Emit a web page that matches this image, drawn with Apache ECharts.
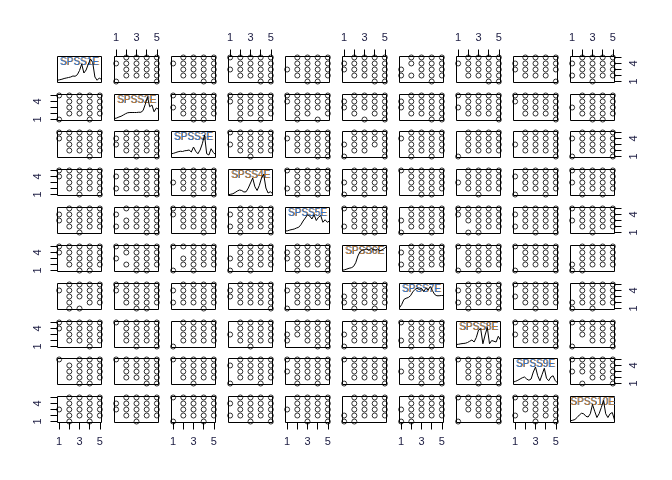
<!DOCTYPE html>
<html><head><meta charset="utf-8">
<script src="https://cdn.jsdelivr.net/npm/echarts@6/dist/echarts.min.js"></script>
<style>html,body{margin:0;padding:0;background:#fff}#c{width:672px;height:480px}</style>
</head><body><div id="c"></div>
<script>
// variable names (diagonal labels)
const varNames = ['SPSS1E','SPSS2E','SPSS3E','SPSS4E','SPSS5E','SPSS6E','SPSS7E','SPSS8E','SPSS9E','SPSS10E'];
// item responses (1-5 Likert) per variable
const SPSS1E  = ("3454524354342534451453243535425344354215" + "4352435342543253435245342354335243542534").split('').map(Number);
const SPSS2E  = ("4525343452453354241534524353425435241354" + "3425334524352435342534254345243524354425").split('').map(Number);
const SPSS3E  = ("2534453425314543524354325445235413543254" + "5243435325435244534253324354235342534352").split('').map(Number);
const SPSS4E  = ("5342543524135425434253452354241534352453" + "2435334524352345342534452435423534253342").split('').map(Number);
const SPSS5E  = ("4353425345243514534253423545324154352435" + "5234354235343524453425354524354233452534").split('').map(Number);
const SPSS6E  = ("3545234354152435425345324354253415423545" + "4243543524325243542353425324523543352452").split('').map(Number);
const SPSS7E  = ("4235453425341543524534253452354125435342" + "3534253425334524354423545352453234352454").split('').map(Number);
const SPSS8E  = ("5423534254315435245342543524543215345243" + "2354343524253245234534352453324354235443").split('').map(Number);
const SPSS9E  = ("3452543524153452435425345243524351435254" + "4523354324352435425334523545354325343254").split('').map(Number);
const SPSS10E = ("2545342534251435423545342534254315324534" + "3452435342354425435243534253245243524335").split('').map(Number);
const responses = [SPSS1E,SPSS2E,SPSS3E,SPSS4E,SPSS5E,SPSS6E,SPSS7E,SPSS8E,SPSS9E,SPSS10E];

// tick values and labels
const xTicks = [1,2,3,4,5];
const xTickLabels = [1,3,5];
const yTicks = [1,2,3,4,5];
const yTickLabels = [1,4];

// density curves on the diagonal (relative heights)
const densityX = [0,0.05,0.1,0.15,0.2,0.25,0.3,0.35,0.4,0.45,0.5,0.55,0.6,0.65,0.7,0.75,0.8,0.85,0.9,0.95,1];
const dens1  = [0.09,0.11,0.13,0.16,0.18,0.2,0.22,0.26,0.25,0.31,0.48,0.74,0.38,0.5,0.74,0.94,0.8,0.22,0.09,0.18,0.12];
const dens2  = [0.08,0.1,0.14,0.17,0.22,0.27,0.31,0.32,0.32,0.32,0.32,0.33,0.33,0.4,0.65,0.95,0.55,0.62,0.35,0.5,0.45];
const dens3  = [0.15,0.17,0.2,0.23,0.25,0.24,0.27,0.28,0.3,0.22,0.42,0.25,0.15,0.3,0.55,0.9,0.15,0.1,0.35,0.2,0.12];
const dens4  = [0.03,0.05,0.07,0.12,0.18,0.22,0.2,0.14,0.15,0.3,0.5,0.7,0.35,0.2,0.4,0.7,0.85,0.3,0.1,0.15,0.08];
const dens5  = [0.1,0.11,0.14,0.16,0.18,0.22,0.25,0.35,0.5,0.62,0.75,0.7,0.58,0.75,0.52,0.65,0.72,0.45,0.55,0.45,0.5];
const dens6  = [0.05,0.07,0.1,0.13,0.15,0.2,0.35,0.62,0.8,0.85,0.88,0.9,0.85,0.92,0.88,0.85,0.9,0.82,0.87,0.92,1.0];
const dens7  = [0.07,0.2,0.4,0.45,0.48,0.55,0.7,0.8,0.85,0.8,0.85,0.72,0.85,0.78,0.92,0.75,0.6,0.55,0.55,0.56,0.56];
const dens8  = [0.12,0.13,0.15,0.16,0.17,0.2,0.25,0.3,0.22,0.4,0.7,0.75,0.15,0.5,0.8,0.15,0.28,0.25,0.22,0.45,0.3];
const dens9  = [0.1,0.13,0.17,0.22,0.27,0.3,0.22,0.17,0.22,0.5,0.7,0.35,0.15,0.4,0.65,0.25,0.15,0.3,0.35,0.15,0.07];
const dens10 = [0.07,0.09,0.12,0.2,0.3,0.37,0.35,0.25,0.22,0.35,0.72,0.45,0.2,0.35,0.6,0.88,0.35,0.2,0.35,0.4,0.1];
const densities = [dens1,dens2,dens3,dens4,dens5,dens6,dens7,dens8,dens9,dens10];

// ---- layout ----
const N = 10;
const colLeft0 = 57.5, colStep = 57, panelW = 44;
const rowTop0 = 56.7, rowStep = 37.84, panelH = 26;
const FONT = "'Liberation Sans', Arial, sans-serif";
const labelColor = '#1a1a40';

const grids = [], xAxes = [], yAxes = [], series = [], graphics = [];
for (let i = 0; i < N; i++) {
  for (let j = 0; j < N; j++) {
    const k = i * N + j;
    const left = colLeft0 + colStep * j;
    const top = Math.round(rowTop0 + rowStep * i) - 0.5;
    grids.push({left: left, top: top, width: panelW, height: panelH, show: true,
      borderColor: '#000', borderWidth: 1, backgroundColor: 'transparent',
      containLabel: false, outerBoundsMode: 'none'});
    if (i === j) {
      xAxes.push({gridIndex: k, type: 'value', min: 0, max: 1, show: false});
      yAxes.push({gridIndex: k, type: 'value', min: 0, max: 1.04, show: false});
      series.push({type: 'line', xAxisIndex: k, yAxisIndex: k, symbol: 'none', z: 3,
        lineStyle: {color: '#000', width: 1}, silent: true, animation: false,
        data: densityX.map((x, n) => [x, densities[i][n]])});
      const cx = left + panelW / 2, cy = top + 6;
      const name = varNames[i];
      const blueTop = (i % 2 === 0);
      const c1 = blueTop ? '#d08030' : '#2f72c8';
      const c2 = blueTop ? '#2f72c8' : '#c47a2a';
      graphics.push({type: 'text', z: 1, silent: true, x: cx + 0.6, y: cy,
        style: {text: name, font: '10px ' + FONT, fill: c1, align: 'center', verticalAlign: 'middle'}});
      graphics.push({type: 'text', z: 1, silent: true, x: cx - 0.2, y: cy,
        style: {text: name, font: '10px ' + FONT, fill: c2, align: 'center', verticalAlign: 'middle'}});
      continue;
    }
    const hasX = (i === 0 && j % 2 === 1) || (i === N - 1 && j % 2 === 0);
    const hasY = (j === 0 && i % 2 === 1) || (j === N - 1 && i % 2 === 0);
    xAxes.push({gridIndex: k, type: 'value', min: 0.84, max: 5.16,
      position: i === 0 ? 'top' : 'bottom',
      axisLine: {show: false}, splitLine: {show: false},
      axisTick: {show: hasX, length: 7, customValues: xTicks, lineStyle: {color: '#000', width: 1}},
      axisLabel: {show: hasX, customValues: xTickLabels, margin: i === 0 ? 13 : 14,
        fontSize: 11, fontFamily: FONT, color: labelColor}});
    yAxes.push({gridIndex: k, type: 'value', min: 0.84, max: 5.16,
      position: j === 0 ? 'left' : 'right',
      axisLine: {show: false}, splitLine: {show: false},
      axisTick: {show: hasY, length: 7, customValues: yTicks, lineStyle: {color: '#000', width: 1}},
      axisLabel: {show: hasY, customValues: yTickLabels, margin: 14, rotate: 90,
        fontSize: 11, fontFamily: FONT, color: labelColor}});
    const xs = responses[j], ys = responses[i];
    const seen = {}, pts = [];
    for (let n = 0; n < Math.min(xs.length, ys.length); n++) {
      const key = xs[n] + '_' + ys[n];
      if (!seen[key]) { seen[key] = 1; pts.push([xs[n], ys[n]]); }
    }
    series.push({type: 'scatter', xAxisIndex: k, yAxisIndex: k, symbol: 'circle', symbolSize: 5,
      itemStyle: {color: 'rgba(0,0,0,0)', borderColor: '#000', borderWidth: 1},
      silent: true, animation: false, clip: true, data: pts});
  }
}

const chart = echarts.init(document.getElementById('c'), null, {renderer: 'canvas'});
chart.setOption({
  animation: false,
  backgroundColor: '#fff',
  grid: grids, xAxis: xAxes, yAxis: yAxes, series: series,
  graphic: {elements: graphics}
});
</script></body></html>
